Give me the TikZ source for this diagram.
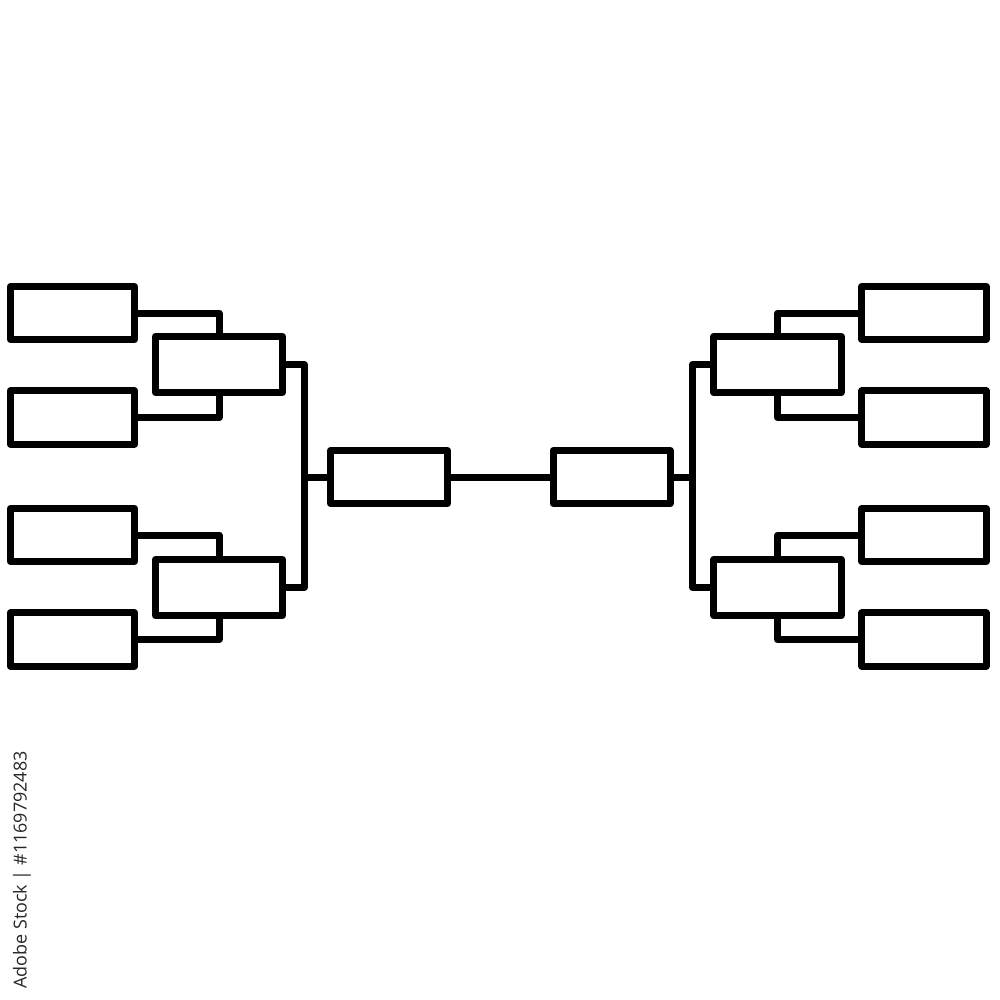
\documentclass[tikz,border=0pt]{standalone}
\usepackage{fontspec}
\setsansfont{Open Sans}
\begin{document}
\begin{tikzpicture}[x=0.01cm,y=-0.01cm,line width=0.07cm,line join=round,
  box/.style={draw=black,fill=white,rectangle,inner sep=0pt,outer sep=0pt},
  rone/.style={box,minimum width=1.24cm,minimum height=0.53cm},
  rtwo/.style={box,minimum width=1.27cm,minimum height=0.56cm},
  fin/.style={box,minimum width=1.17cm,minimum height=0.53cm},
  link/.style={draw=black}]
\useasboundingbox (0,0) rectangle (1000,1000);
% left first round
\node[rone] (A1) at (72.5,313) {};
\node[rone] (A2) at (72.5,417.5) {};
\node[rone] (A3) at (72.5,535) {};
\node[rone] (A4) at (72.5,639.5) {};
% left second round
\node[rtwo] (B1) at (219,364.5) {};
\node[rtwo] (B2) at (219,587.5) {};
% finals
\node[fin] (C1) at (389,477) {};
\node[fin] (C2) at (611.7,477) {};
% right second round
\node[rtwo] (D1) at (777.5,364.5) {};
\node[rtwo] (D2) at (777.5,587.5) {};
% right first round
\node[rone] (E1) at (924,313) {};
\node[rone] (E2) at (924,417.5) {};
\node[rone] (E3) at (924,535) {};
\node[rone] (E4) at (924,639.5) {};
% junctions
\coordinate (L) at (304,477);
\coordinate (R) at (692.5,477);
% left connectors
\draw[link] (A1.east) -| (B1.north);
\draw[link] (A2.east) -| (B1.south);
\draw[link] (A3.east) -| (B2.north);
\draw[link] (A4.east) -| (B2.south);
\draw[link] (B1.east) -| (L) |- (B2.east);
\draw[link] (L) -- (C1.west);
% centre
\draw[link] (C1.east) -- (C2.west);
% right connectors
\draw[link] (E1.west) -| (D1.north);
\draw[link] (E2.west) -| (D1.south);
\draw[link] (E3.west) -| (D2.north);
\draw[link] (E4.west) -| (D2.south);
\draw[link] (D1.west) -| (R) |- (D2.west);
\draw[link] (R) -- (C2.east);
% stock label
\node[rotate=90,text=black!85,font=\sffamily\fontsize{5.1pt}{6pt}\selectfont,inner sep=0pt] (wm) at (22,870) {Adobe Stock | \#1169792483};
\end{tikzpicture}
\end{document}
